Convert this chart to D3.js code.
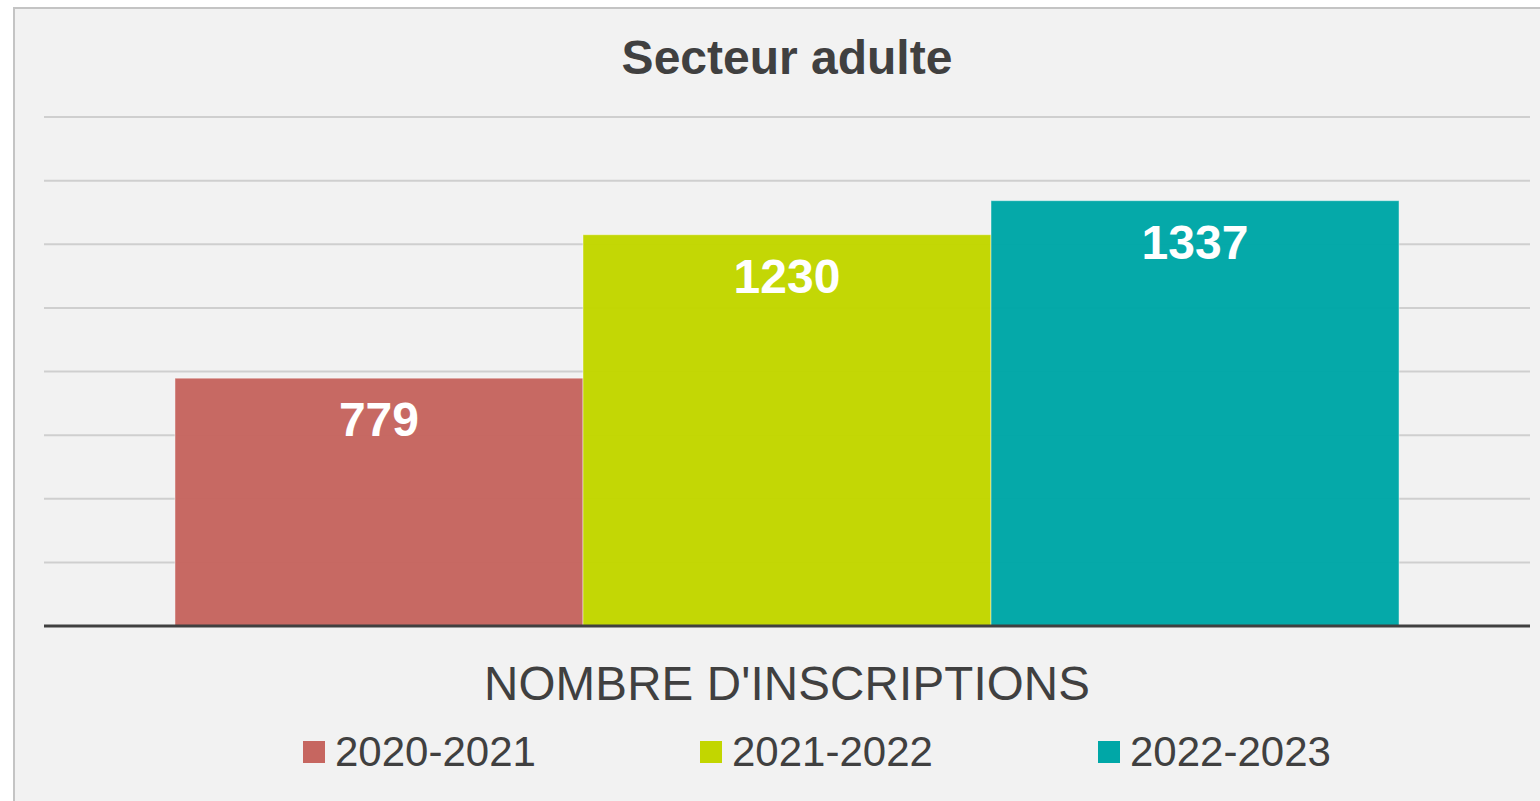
<!DOCTYPE html>
<html>
<head>
<meta charset="utf-8">
<script src="https://cdn.jsdelivr.net/npm/d3@7"></script>
<style>
  html, body { margin: 0; padding: 0; background: #fff; }
  svg { display: block; font-family: "Liberation Sans", Arial, sans-serif; }
</style>
</head>
<body>
<div id="chart"></div>
<script>

var title = "Secteur adulte",
    category = "NOMBRE D'INSCRIPTIONS",
    seriesNames = ["2020-2021", "2021-2022", "2022-2023"],
    seriesValues = [779, 1230, 1337],
    seriesColors = ["#c66660", "#c2d600", "#00a7a7"],
    gridTicks = [0, 200, 400, 600, 800, 1000, 1200, 1400, 1600];

var width = 1540,
    height = 801;

var svg = d3.select("#chart").append("svg")
  .attr("width", width)
  .attr("height", height);

// panel
svg.append("rect")
  .attr("x", 14).attr("y", 8)
  .attr("width", width + 10).attr("height", height + 10)
  .attr("fill", "#f2f2f2")
  .attr("stroke", "#c4c4c4")
  .attr("stroke-width", 2);

svg.append("text")
  .attr("x", 787).attr("y", 74)
  .attr("text-anchor", "middle")
  .attr("font-size", 48)
  .attr("font-weight", "bold")
  .attr("fill", "#404040")
  .text(title);

var plotLeft = 44, plotRight = 1530;

var y = d3.scaleLinear()
  .domain([0, 1600])
  .range([626, 117]);

var x0 = d3.scaleBand()
  .domain([category])
  .range([plotLeft, plotRight])
  .paddingInner(0)
  .paddingOuter(0.107);

var x1 = d3.scaleBand()
  .domain(seriesNames)
  .range([0, x0.bandwidth()])
  .padding(0);

// gridlines
svg.append("g").selectAll("line")
  .data(gridTicks.filter(function(d) { return d > 0; }))
  .enter().append("line")
  .attr("x1", plotLeft).attr("x2", plotRight)
  .attr("y1", function(d) { return y(d); })
  .attr("y2", function(d) { return y(d); })
  .attr("stroke", "#cfcfcf")
  .attr("stroke-width", 2);

// bars
var bars = svg.append("g")
  .attr("transform", "translate(" + x0(category) + ",0)");

bars.selectAll("rect")
  .data(seriesNames)
  .enter().append("rect")
  .attr("x", function(d) { return x1(d); })
  .attr("y", function(d, i) { return y(seriesValues[i]); })
  .attr("width", x1.bandwidth())
  .attr("height", function(d, i) { return y(0) - y(seriesValues[i]); })
  .attr("fill", function(d, i) { return seriesColors[i]; })
  .attr("fill-opacity", 0.98)
  .attr("stroke", "#ffffff")
  .attr("stroke-opacity", 0.45)
  .attr("stroke-width", 1);

bars.selectAll("text")
  .data(seriesNames)
  .enter().append("text")
  .attr("x", function(d) { return x1(d) + x1.bandwidth() / 2; })
  .attr("y", function(d, i) { return y(seriesValues[i]) + 58; })
  .attr("text-anchor", "middle")
  .attr("font-size", 48)
  .attr("font-weight", "bold")
  .attr("fill", "#ffffff")
  .text(function(d, i) { return seriesValues[i]; });

// baseline axis
svg.append("line")
  .attr("x1", plotLeft).attr("x2", plotRight)
  .attr("y1", y(0)).attr("y2", y(0))
  .attr("stroke", "#404040")
  .attr("stroke-width", 3);

// category label
svg.append("text")
  .attr("x", x0(category) + x0.bandwidth() / 2)
  .attr("y", 700)
  .attr("text-anchor", "middle")
  .attr("font-size", 47.5)
  .attr("fill", "#404040")
  .attr("textLength", 606)
  .text(category);

// legend
var legendX = [303, 700, 1098];
var legend = svg.append("g").selectAll("g")
  .data(seriesNames)
  .enter().append("g")
  .attr("transform", function(d, i) { return "translate(" + legendX[i] + ",741)"; });

legend.append("rect")
  .attr("width", 22).attr("height", 22)
  .attr("fill", function(d, i) { return seriesColors[i]; });

legend.append("text")
  .attr("x", 32).attr("y", 25)
  .attr("font-size", 42)
  .attr("fill", "#404040")
  .text(function(d) { return d; });

</script>
</body>
</html>
